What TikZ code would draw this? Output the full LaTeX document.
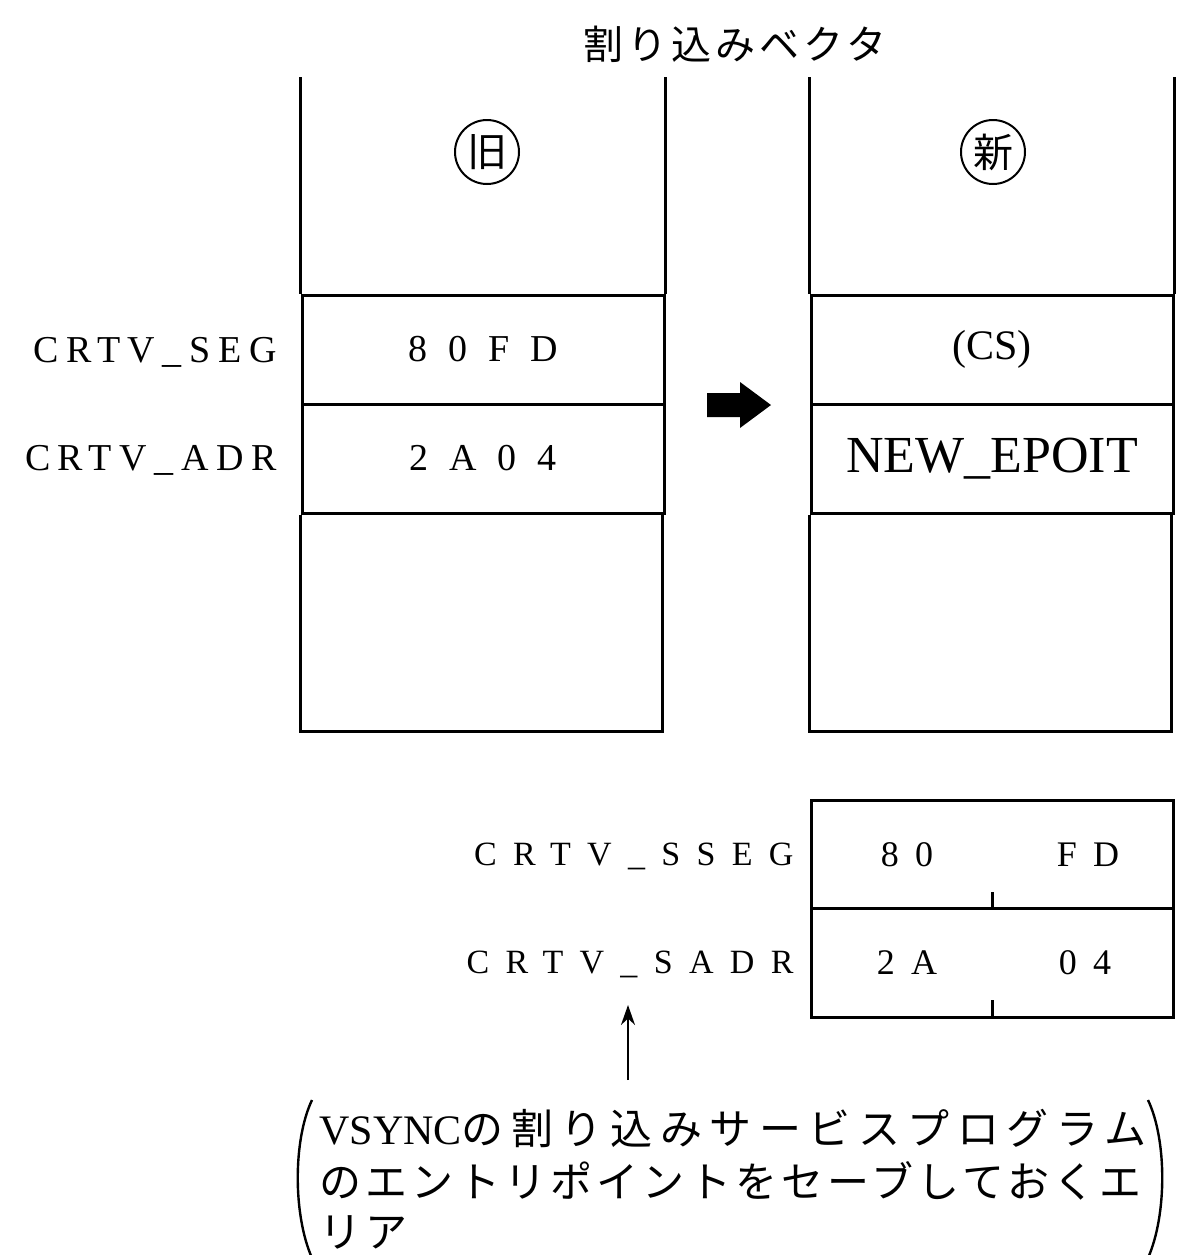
\documentclass[tikz,border=0pt]{standalone}
\usepackage{fontspec}
\setmainfont{Liberation Serif}
\newfontfamily\jp{Noto Sans CJK JP}
\usetikzlibrary{arrows.meta}
\begin{document}
\begin{tikzpicture}[x=0.5pt,y=-0.5pt,line width=1.5pt,
  cell/.style={draw,minimum width=181pt,minimum height=54.5pt,inner sep=0pt},
  lbl/.style={anchor=east,inner sep=0pt,font=\fontsize{19}{22}\selectfont\addfontfeature{LetterSpace=20}},
  slbl/.style={anchor=east,inner sep=0pt,font=\fontsize{17}{20}\selectfont\addfontfeature{LetterSpace=48}},
  val/.style={inner sep=0pt,font=\fontsize{19}{22}\selectfont\addfontfeature{LetterSpace=55}},
  sval/.style={inner sep=0pt,font=\fontsize{18}{22}\selectfont\addfontfeature{LetterSpace=45}},
  circ/.style={draw,circle,line width=1pt,minimum size=32pt,inner sep=0pt,font=\jp\fontsize{20}{20}\selectfont},
  jptxt/.style={inner sep=0pt,font=\jp\fontsize{20}{24}\selectfont\addfontfeature{LetterSpace=10}},
  note/.style={anchor=west,inner sep=0pt,font=\jp\fontsize{21}{25}\selectfont\addfontfeature{LetterSpace=10}}
]
\useasboundingbox (0,0) rectangle (1179,1255);

% title
\node[jptxt] (title) at (735,44) {割り込みベクタ};

% old column
\node[cell] (oseg) at (483,349.5) {};
\node[cell] (oadr) at (483,458.5) {};
\draw (oseg.north west) -- ++(0,-217);
\draw (oseg.north east) -- ++(0,-217);
\draw (oadr.south west) -- ++(0,217) -- ++(362,0) -- ++(0,-217);
\node[circ] (old) at (487,152) {旧};
\node[val] (v1) at (oseg.center) {80FD};
\node[val] (v2) at (oadr.center) {2A04};
\node[lbl] (l1) at (278,352) {CRTV\_SEG};
\node[lbl] (l2) at (278,460) {CRTV\_ADR};

% new column
\node[cell] (nseg) at (992,349.5) {};
\node[cell] (nadr) at (992,458.5) {};
\draw (nseg.north west) -- ++(0,-217);
\draw (nseg.north east) -- ++(0,-217);
\draw (nadr.south west) -- ++(0,217) -- ++(362,0) -- ++(0,-217);
\node[circ] (new) at (993,152) {新};
\node[inner sep=0pt,font=\fontsize{21}{24}\selectfont] (cs) at (nseg.center) {(CS)};
\node[inner sep=0pt,font=\fontsize{26}{30}\selectfont] (ne) at (nadr.center) {NEW\_EPOIT};

% big arrow
\coordinate (mid) at (738,405);
\fill ([shift={(-31,-12)}]mid) -- ++(33,0) -- ++(0,-11) -- ++(31,23) -- ++(-31,23) -- ++(0,-11) -- ++(-33,0) -- cycle;

% save area
\node[cell,minimum height=54pt] (sseg) at (992,854) {};
\node[cell,minimum height=54.5pt] (sadr) at (992,962.5) {};
\draw (sseg.south) -- ++(0,-18);
\draw (sadr.south) -- ++(0,-19);
\node[sval] (s1) at (907,855) {80};
\node[sval] (s2) at (1088,855) {FD};
\node[sval] (s3) at (907,963) {2A};
\node[sval] (s4) at (1085,963) {04};
\node[slbl] (sl1) at (795,856) {CRTV\_SSEG};
\node[slbl] (sl2) at (795,964) {CRTV\_SADR};

% note
\coordinate (ntop) at (628,1080);
\coordinate (ntip) at (628,1005);
\draw[line width=1pt,-{Stealth[length=10pt,width=7pt]}] (ntop) -- (ntip);
\node[note] (n1) at (318,1128) {{\rmfamily\addfontfeature{LetterSpace=0}VSYNC}{\addfontfeature{LetterSpace=18}の割り込みサービスプログラム}};
\node[note] (n2) at (318,1181) {のエントリポイントをセーブしておくエ};
\node[note] (n3) at (318,1232) {リア};
\draw[line width=1.2pt] (312,1100) .. controls (293,1140) and (293,1215) .. (312,1258);
\draw[line width=1.2pt] (1148,1100) .. controls (1167,1140) and (1167,1215) .. (1148,1258);
\end{tikzpicture}
\end{document}
